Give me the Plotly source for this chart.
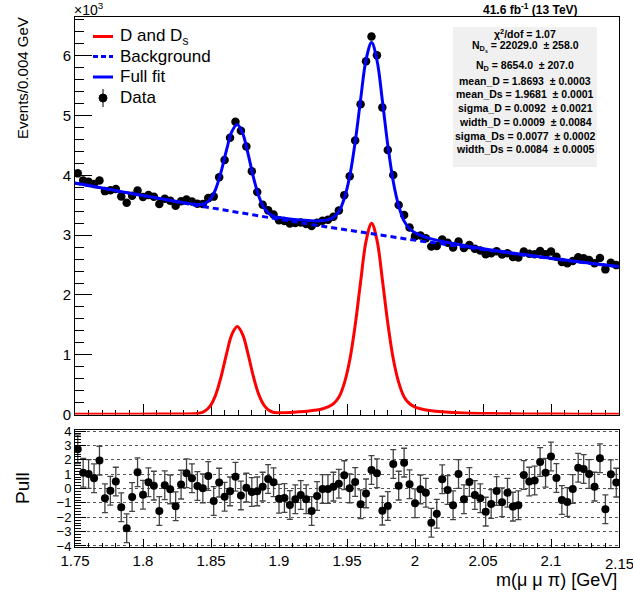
import plotly.graph_objects as go

# ---------------- data ----------------
bin_lo, bin_w, n_bins = 1.75, 0.004, 100
bin_centers = [round(bin_lo + bin_w * (i + 0.5), 4) for i in range(n_bins)]

data_counts = [4034, 3915, 3893, 3857, 3916, 3737, 3753, 3774, 3649, 3543,
               3660, 3748, 3637, 3672, 3642, 3520, 3611, 3578, 3492, 3566,
               3598, 3563, 3524, 3522, 3620, 3645, 3971, 4256, 4630, 4899,
               4746, 4485, 4068, 3722, 3509, 3415, 3344, 3249, 3236, 3194,
               3205, 3212, 3186, 3152, 3209, 3242, 3257, 3307, 3413, 3670,
               3986, 4584, 5192, 5910, 6325, 6009, 5138, 4425, 4006, 3503,
               3337, 3127, 2984, 2995, 2948, 2810, 2821, 2929, 2872, 2794,
               2895, 2786, 2834, 2772, 2745, 2682, 2697, 2731, 2677, 2699,
               2635, 2627, 2725, 2689, 2680, 2734, 2683, 2728, 2640, 2551,
               2532, 2567, 2630, 2615, 2586, 2530, 2618, 2428, 2540, 2499]

pulls = [2.73, 1.10, 1.01, 0.71, 1.94, -0.68, -0.15, 0.48, -1.31, -2.77,
         -0.59, 1.13, -0.43, 0.43, 0.20, -1.57, 0.22, -0.06, -1.24, 0.27,
         1.06, 0.71, 0.17, 0.01, 0.87, -0.87, 0.41, -0.57, -0.20, 0.82,
         -0.48, 0.06, -0.24, -0.20, 0.13, 0.66, 0.43, -0.71, -0.66, -1.15,
         -0.75, -0.45, -0.75, -1.57, -0.52, -0.03, -0.03, 0.13, 0.33, 0.93,
         0.01, 0.45, -1.10, -0.34, 1.29, 1.06, -1.54, -1.22, 1.71, 0.20,
         1.80, 0.29, -1.03, -0.06, -0.29, -2.38, -1.75, 0.64, -0.10, -1.17,
         1.01, -0.75, 0.45, -0.45, -0.68, -1.61, -1.08, -0.17, -0.96, -0.29,
         -1.26, -1.17, 0.94, 0.48, 0.55, 1.84, 1.10, 2.22, 0.73, -0.80,
         -0.94, -0.03, 1.45, 1.36, 1.01, 0.13, 2.10, -1.45, 0.99, 0.41]
pull_error = 1.0

curve_x = [1.75, 1.77, 1.79, 1.81, 1.825, 1.8373, 1.8413, 1.8453, 1.8493, 1.8533,
           1.8573, 1.8613, 1.8653, 1.8693, 1.8733, 1.8773, 1.8813, 1.8853, 1.8893, 1.8933,
           1.8973, 1.9013, 1.908, 1.915, 1.922, 1.928, 1.9321, 1.9361, 1.9401, 1.9441,
           1.9481, 1.9521, 1.9561, 1.9601, 1.9641, 1.9681, 1.9721, 1.9761, 1.9801, 1.9841,
           1.9881, 1.9921, 1.9961, 2.0001, 2.0041, 2.0081, 2.015, 2.025, 2.04, 2.06,
           2.08, 2.10, 2.12, 2.15]

signal_y = [3, 3.5, 5, 7, 9, 12, 21, 54, 139, 320,
            622, 1002, 1336, 1471, 1337, 1004, 624, 324, 144, 60,
            30, 30, 35, 46, 60, 76, 96, 126, 181, 291,
            529, 919, 1508, 2238, 2910, 3200, 2910, 2238, 1508, 919,
            529, 290, 180, 125, 95, 75, 55, 37, 23, 14.5,
            10, 7.5, 6, 4]

background_y = [3870, 3784, 3699, 3617, 3556, 3506, 3491, 3475, 3459, 3443,
                3428, 3412, 3397, 3381, 3366, 3351, 3336, 3320, 3305, 3290,
                3275, 3261, 3236, 3210, 3185, 3163, 3148, 3134, 3120, 3106,
                3092, 3078, 3064, 3050, 3036, 3022, 3009, 2995, 2982, 2968,
                2955, 2941, 2928, 2915, 2902, 2889, 2867, 2835, 2787, 2726,
                2666, 2608, 2551, 2470]

fullfit_y = [3873, 3788, 3704, 3624, 3565, 3518, 3512, 3529, 3598, 3763,
             4050, 4414, 4733, 4852, 4703, 4355, 3960, 3644, 3449, 3350,
             3305, 3291, 3271, 3256, 3245, 3239, 3244, 3260, 3301, 3397,
             3621, 3997, 4572, 5288, 5946, 6222, 5919, 5233, 4490, 3887,
             3484, 3231, 3108, 3040, 2997, 2964, 2922, 2872, 2810, 2740,
             2676, 2615, 2557, 2474]

legend_names = ["D and D<sub>s</sub>", "Background", "Full fit", "Data"]
stats_lines = [
    "χ<sup>2</sup>/dof = 1.07",
    "N<sub>D<sub>s</sub></sub> = 22029.0  ± 258.0",
    "N<sub>D</sub> = 8654.0  ± 207.0",
    "mean_D = 1.8693  ± 0.0003",
    "mean_Ds = 1.9681  ± 0.0001",
    "sigma_D = 0.0092  ± 0.0021",
    "width_D = 0.0009  ± 0.0084",
    "sigma_Ds = 0.0077  ± 0.0002",
    "width_Ds = 0.0084  ± 0.0005",
]
lumi_text = "41.6 fb<sup>-1</sup> (13 TeV)"
top_yticks = [0, 1000, 2000, 3000, 4000, 5000, 6000]
top_yticklabels = ["0", "1", "2", "3", "4", "5", "6"]
x_ticks = [1.75, 1.80, 1.85, 1.90, 1.95, 2.00, 2.05, 2.10, 2.15]
x_ticklabels = ["1.75", "1.8", "1.85", "1.9", "1.95", "2", "2.05", "2.1", "2.15"]
pull_ticks = [-4, -3, -2, -1, 0, 1, 2, 3, 4]
pull_ticklabels = ["\u22124", "\u22123", "\u22122", "\u22121", "0", "1", "2", "3", "4"]

# ---------------- layout helpers ----------------
W, H = 633, 594
L, R, T, B = 75, 619, 17, 547


def px(xp):
    return (xp - L) / (R - L)


def py(yp):
    return (B - yp) / (B - T)


FONT = "Liberation Sans, Arial, Helvetica, sans-serif"
RED = "#ff0000"
BLUE = "#0000ff"

fig = go.Figure()

# top panel
fig.add_trace(go.Scatter(x=bin_centers, y=data_counts, mode="markers",
                         marker=dict(color="black", size=8.5),
                         xaxis="x", yaxis="y", showlegend=False, name="Data"))
fig.add_trace(go.Scatter(x=curve_x, y=signal_y, mode="lines",
                         line=dict(color=RED, width=3, shape="spline"),
                         xaxis="x", yaxis="y", showlegend=False, name="D and Ds"))
fig.add_trace(go.Scatter(x=curve_x, y=background_y, mode="lines",
                         line=dict(color=BLUE, width=3, dash="6px,4px"),
                         xaxis="x", yaxis="y", showlegend=False, name="Background"))
fig.add_trace(go.Scatter(x=curve_x, y=fullfit_y, mode="lines",
                         line=dict(color=BLUE, width=3, shape="spline"),
                         xaxis="x", yaxis="y", showlegend=False, name="Full fit"))

# pull panel
fig.add_trace(go.Scatter(x=bin_centers, y=pulls, mode="markers",
                         marker=dict(color="black", size=8),
                         error_y=dict(type="constant", value=pull_error,
                                      color="#444444", thickness=1.3, width=3),
                         xaxis="x2", yaxis="y2", showlegend=False, name="Pull"))

axis_common = dict(showline=True, linecolor="black", linewidth=1, mirror=True,
                   zeroline=False, showgrid=False, ticks="inside",
                   tickcolor="black", tickwidth=1, automargin=False)

# last x label sits on the figure edge, so it is written as an annotation
axis_ticktext = x_ticklabels[:-1] + [""]

fig.update_layout(
    width=W, height=H,
    margin=dict(l=L, r=W - R, t=T, b=H - B, autoexpand=False),
    paper_bgcolor="white", plot_bgcolor="white",
    font=dict(family=FONT, color="black", size=15),
    xaxis=dict(axis_common, domain=[0, 1], range=[1.75, 2.15], anchor="y",
               showticklabels=False, tickvals=x_ticks, ticklen=11,
               minor=dict(ticks="inside", dtick=0.01, tick0=1.75, ticklen=5,
                          tickcolor="black"),
               layer="below traces"),
    yaxis=dict(axis_common, domain=[py(414.5), 1], range=[0, 6650], anchor="x",
               tickvals=top_yticks, ticktext=top_yticklabels, ticklen=17,
               tickfont=dict(size=15),
               minor=dict(ticks="inside", dtick=200, ticklen=9, tickcolor="black")),
    xaxis2=dict(axis_common, domain=[0, 1], range=[1.75, 2.15], anchor="y2",
                tickvals=x_ticks, ticktext=axis_ticktext, ticklen=8,
                tickfont=dict(size=15),
                minor=dict(ticks="inside", dtick=0.01, tick0=1.75, ticklen=4,
                           tickcolor="black")),
    yaxis2=dict(axis_common, domain=[0, py(430)], range=[-4.07, 4.07], anchor="x2",
                tickvals=pull_ticks, ticktext=pull_ticklabels, ticklen=11,
                tickfont=dict(size=13),
                showgrid=True, gridcolor="#555555", griddash="dot", gridwidth=1,
                minor=dict(ticks="inside", dtick=0.2, ticklen=6, tickcolor="black")),
)

ann = []
shapes = []

ann.append(dict(text=x_ticklabels[-1], x=x_ticks[-1], xref="x2", y=py(563), yref="paper",
                xanchor="center", yanchor="middle", showarrow=False, font=dict(size=15)))

# axis titles and labels
ann.append(dict(text="×10<sup>3</sup>", x=px(72), y=py(9), xref="paper", yref="paper",
                xanchor="left", yanchor="middle", showarrow=False, font=dict(size=14)))
ann.append(dict(text="Events/0.004 GeV", x=px(22), y=py(15), xref="paper", yref="paper",
                xanchor="center", yanchor="top", textangle=-90, showarrow=False,
                font=dict(size=15)))
ann.append(dict(text="Pull", x=px(22), y=py(488), xref="paper", yref="paper",
                xanchor="center", yanchor="middle", textangle=-90, showarrow=False,
                font=dict(size=19)))
ann.append(dict(text="m(μ μ π) [GeV]", x=px(619), y=py(580), xref="paper", yref="paper",
                xanchor="right", yanchor="middle", showarrow=False, font=dict(size=18)))
ann.append(dict(text="<b>" + lumi_text + "</b>", x=px(580), y=py(9), xref="paper",
                yref="paper", xanchor="right", yanchor="middle", showarrow=False,
                font=dict(size=12)))

# stats box
shapes.append(dict(type="rect", xref="paper", yref="paper", x0=px(453), x1=px(597),
                   y0=py(167), y1=py(27), fillcolor="#f0f0f0", line=dict(width=0),
                   layer="below"))
stats_y = [33, 47, 66, 80.5, 94, 107.5, 121.5, 135.5, 149]
for txt, yy in zip(stats_lines, stats_y):
    ann.append(dict(text="<b>" + txt + "</b>", x=px(525), y=py(yy), xref="paper",
                    yref="paper", xanchor="center", yanchor="middle", showarrow=False,
                    font=dict(size=10.5)))

# legend (drawn by hand to match the ROOT layout)
leg_y = [36.5, 56.5, 77, 98]
shapes.append(dict(type="line", xref="paper", yref="paper", x0=px(93), x1=px(113),
                   y0=py(leg_y[0]), y1=py(leg_y[0]), line=dict(color=RED, width=3)))
shapes.append(dict(type="line", xref="paper", yref="paper", x0=px(93), x1=px(113),
                   y0=py(leg_y[1]), y1=py(leg_y[1]),
                   line=dict(color=BLUE, width=3, dash="5px,3px")))
shapes.append(dict(type="line", xref="paper", yref="paper", x0=px(93), x1=px(113),
                   y0=py(leg_y[2]), y1=py(leg_y[2]), line=dict(color=BLUE, width=3)))
shapes.append(dict(type="line", xref="paper", yref="paper", x0=px(103), x1=px(103),
                   y0=py(leg_y[3] - 9), y1=py(leg_y[3] + 9), line=dict(color="black", width=1)))
shapes.append(dict(type="circle", xref="paper", yref="paper", x0=px(99), x1=px(107),
                   y0=py(leg_y[3] + 4), y1=py(leg_y[3] - 4), fillcolor="black",
                   line=dict(color="black", width=1)))
for name, yy in zip(legend_names, leg_y):
    ann.append(dict(text=name, x=px(118), y=py(yy), xref="paper", yref="paper",
                    xanchor="left", yanchor="middle", showarrow=False,
                    font=dict(size=17)))

fig.update_layout(annotations=ann, shapes=shapes)
fig.write_html("out.html")
